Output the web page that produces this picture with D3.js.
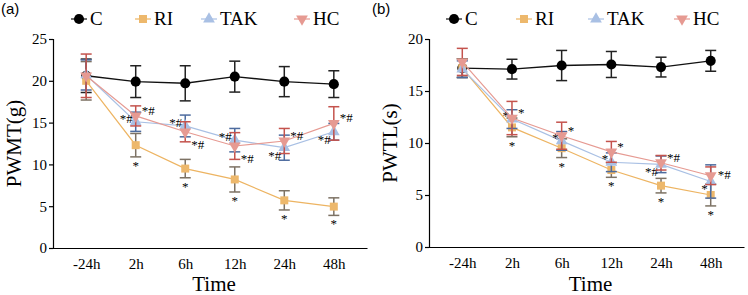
<!DOCTYPE html>
<html>
<head>
<meta charset="utf-8">
<script src="https://cdn.jsdelivr.net/npm/d3@7"></script>
<style>
  body { margin: 0; background: #fff; }
  svg { display: block; }
</style>
</head>
<body>
<div id="container"></div>
<script>
// --- Data ---
const times = ["-24h", "2h", "6h", "12h", "24h", "48h"];
const groups = ["C", "RI", "TAK", "HC"];

// Panel (a): PWMT (g), mean and SD
const pwmtC = [20.6, 19.9, 19.7, 20.5, 19.9, 19.6];
const pwmtCsd = [2.0, 1.9, 2.1, 1.85, 1.8, 1.6];
const pwmtRI = [20.0, 12.3, 9.5, 8.2, 5.7, 4.95];
const pwmtRIsd = [2.3, 1.4, 1.1, 1.5, 1.15, 1.05];
const pwmtTAK = [20.7, 15.1, 14.6, 12.9, 12.0, 13.9];
const pwmtTAKsd = [1.8, 1.15, 1.3, 1.4, 1.5, 1.0];
const pwmtHC = [20.6, 15.8, 13.9, 12.2, 12.8, 14.9];
const pwmtHCsd = [2.6, 1.2, 1.2, 1.6, 1.5, 2.0];
const pwmtTicks = [0, 5, 10, 15, 20, 25];

// Panel (b): PWTL (s), mean and SD
const pwtlC = [17.2, 17.1, 17.45, 17.55, 17.3, 17.9];
const pwtlCsd = [0.9, 0.95, 1.45, 1.25, 0.95, 1.0];
const pwtlRI = [17.2, 11.5, 9.5, 7.4, 5.9, 5.0];
const pwtlRIsd = [0.9, 0.9, 0.9, 0.7, 0.7, 1.05];
const pwtlTAK = [17.1, 12.3, 10.2, 8.15, 7.95, 6.3];
const pwtlTAKsd = [0.8, 0.9, 0.9, 0.9, 0.8, 1.6];
const pwtlHC = [17.8, 12.4, 10.7, 9.15, 8.1, 6.85];
const pwtlHCsd = [1.3, 1.6, 1.3, 1.0, 0.7, 0.85];
const pwtlTicks = [0, 5, 10, 15, 20];

// Significance marks per time point, with the side they sit on
const pwmtRIsig = ["", "*", "*", "*", "*", "*"];
const pwmtTAKsig = ["", "*#", "*#", "*#", "*#", "*#"];
const pwmtTAKside = ["", "ul", "ul", "ul", "ll", "ll"];
const pwmtHCsig = ["", "*#", "*#", "*#", "*#", "*#"];
const pwmtHCside = ["", "ur", "lr", "lr", "ur", "ur"];

const pwtlRIsig = ["", "*", "*", "*", "*", "*"];
const pwtlTAKsig = ["", "*", "*", "*", "*#", "*"];
const pwtlTAKside = ["", "ul", "ul", "ul", "ll", "ll"];
const pwtlHCsig = ["", "*", "*", "*", "*#", "*#"];
const pwtlHCside = ["", "ur", "ur", "ur", "ur", "r"];

// --- Styles ---
const styles = {
  C:   { line: "#111", bar: "#222", fill: "#000", shape: d3.symbolCircle, size: 80 },
  RI:  { line: "#EDB462", bar: "#7d7264", fill: "#EDB86C", shape: d3.symbolSquare, size: 64 },
  TAK: { line: "#A9C0E4", bar: "#4d6b9e", fill: "#A9C0E4", shape: d3.symbolTriangle, size: 60 },
  HC:  { line: "#E69A92", bar: "#C4534D", fill: "#E69A92", shape: d3.symbolTriangle, size: 60, flip: true }
};
const serif = "Liberation Serif";

const width = 748, height = 295;
const svg = d3.select("#container").append("svg")
  .attr("width", width).attr("height", height);

function drawPanel(opt) {
  const x = d3.scalePoint().domain(times).range([opt.left, opt.right]).padding(0.67);
  const y = d3.scaleLinear().domain([0, opt.yMax]).range([opt.bottom, opt.top]);
  const g = svg.append("g");

  // axes
  const xAx = g.append("g").attr("transform", `translate(0,${opt.bottom})`)
    .call(d3.axisBottom(x).tickSize(0).tickPadding(10));
  const yAx = g.append("g").attr("transform", `translate(${opt.left},0)`)
    .call(d3.axisLeft(y).tickValues(opt.ticks).tickSize(4).tickPadding(2));
  for (const ax of [xAx, yAx]) {
    ax.attr("font-family", serif).attr("font-size", 15);
    ax.select(".domain").attr("stroke", "#000").attr("stroke-width", 1.2);
    ax.selectAll(".tick line").attr("stroke", "#000").attr("stroke-width", 1.2);
    ax.selectAll("text").attr("fill", "#000");
  }

  // axis titles
  g.append("text")
    .attr("x", (opt.left + opt.right) / 2 + 4).attr("y", 291)
    .attr("text-anchor", "middle").attr("font-family", serif).attr("font-size", 21)
    .text("Time");
  g.append("text")
    .attr("transform", `translate(${opt.left - 32},${(opt.top + opt.bottom) / 2}) rotate(-90)`)
    .attr("text-anchor", "middle").attr("font-family", serif).attr("font-size", 21)
    .text(opt.yLabel);

  // panel letter
  g.append("text").attr("x", opt.letterX).attr("y", 14)
    .attr("font-family", "Liberation Sans").attr("font-size", 15)
    .text(opt.letter);

  // series
  const line = d3.line().x((d, i) => x(times[i])).y(d => y(d));
  for (const s of opt.series) {
    const st = styles[s.name];
    g.append("path").datum(s.mean)
      .attr("d", line).attr("fill", "none")
      .attr("stroke", st.line).attr("stroke-width", s.name === "C" ? 1.4 : 1.2);

    const eb = g.append("g").attr("stroke", st.bar).attr("stroke-width", 1.5).attr("fill", "none");
    s.mean.forEach((m, i) => {
      const cx = x(times[i]);
      const y0 = y(m - s.sd[i]), y1 = y(m + s.sd[i]);
      eb.append("line").attr("x1", cx).attr("x2", cx).attr("y1", y0).attr("y2", y1);
      eb.append("line").attr("x1", cx - 5.5).attr("x2", cx + 5.5).attr("y1", y0).attr("y2", y0);
      eb.append("line").attr("x1", cx - 5.5).attr("x2", cx + 5.5).attr("y1", y1).attr("y2", y1);
    });

    const sym = d3.symbol().type(st.shape).size(st.size);
    g.append("g").selectAll("path").data(s.mean).join("path")
      .attr("d", sym)
      .attr("transform", (d, i) => `translate(${x(times[i])},${y(d)})${st.flip ? " rotate(180)" : ""}`)
      .attr("fill", st.fill);

    // significance marks
    s.mean.forEach((m, i) => {
      const txt = s.sig[i];
      if (!txt) return;
      const cx = x(times[i]);
      const cy = y(m);
      const side = s.side ? s.side[i] : "b";
      let tx = cx, ty = cy, anchor = "middle";
      if (side === "b") { ty = y(m - s.sd[i]) + 13; }
      else if (side === "ur") { tx = cx + 6; ty = cy - 1; anchor = "start"; }
      else if (side === "r") { tx = cx + 7; ty = cy + 3; anchor = "start"; }
      else if (side === "lr") { tx = cx + 6; ty = cy + 17; anchor = "start"; }
      else if (side === "ul") { tx = cx - 3; ty = cy + 1; anchor = "end"; }
      else if (side === "ll") { tx = cx - 3; ty = cy + 12; anchor = "end"; }
      g.append("text").attr("x", tx).attr("y", ty).attr("text-anchor", anchor)
        .attr("font-family", serif).attr("font-size", 13).attr("fill", "#000")
        .text(txt);
    });
  }

  // legend
  opt.legendX.forEach((lx, i) => {
    const name = groups[i];
    const st = styles[name];
    g.append("line").attr("x1", lx - 8).attr("x2", lx + 8).attr("y1", 19).attr("y2", 19)
      .attr("stroke", st.line).attr("stroke-width", 1.2);
    g.append("path").attr("d", d3.symbol().type(st.shape).size(st.size)())
      .attr("transform", `translate(${lx},19)${st.flip ? " rotate(180)" : ""}`)
      .attr("fill", st.fill);
    g.append("text").attr("x", lx + 11).attr("y", 25)
      .attr("font-family", serif).attr("font-size", 19)
      .text(name);
  });
}

drawPanel({
  left: 53, right: 367, top: 39, bottom: 248, yMax: 25, ticks: pwmtTicks,
  yLabel: "PWMT(g)", letter: "(a)", letterX: 1,
  legendX: [79, 143, 209, 302],
  series: [
    { name: "C", mean: pwmtC, sd: pwmtCsd, sig: ["", "", "", "", "", ""] },
    { name: "RI", mean: pwmtRI, sd: pwmtRIsd, sig: pwmtRIsig },
    { name: "TAK", mean: pwmtTAK, sd: pwmtTAKsd, sig: pwmtTAKsig, side: pwmtTAKside },
    { name: "HC", mean: pwmtHC, sd: pwmtHCsd, sig: pwmtHCsig, side: pwmtHCside }
  ]
});

drawPanel({
  left: 429, right: 744, top: 39, bottom: 247, yMax: 20, ticks: pwtlTicks,
  yLabel: "PWTL(s)", letter: "(b)", letterX: 372,
  legendX: [454, 524, 596, 682],
  series: [
    { name: "C", mean: pwtlC, sd: pwtlCsd, sig: ["", "", "", "", "", ""] },
    { name: "RI", mean: pwtlRI, sd: pwtlRIsd, sig: pwtlRIsig },
    { name: "TAK", mean: pwtlTAK, sd: pwtlTAKsd, sig: pwtlTAKsig, side: pwtlTAKside },
    { name: "HC", mean: pwtlHC, sd: pwtlHCsd, sig: pwtlHCsig, side: pwtlHCside }
  ]
});
</script>
</body>
</html>
